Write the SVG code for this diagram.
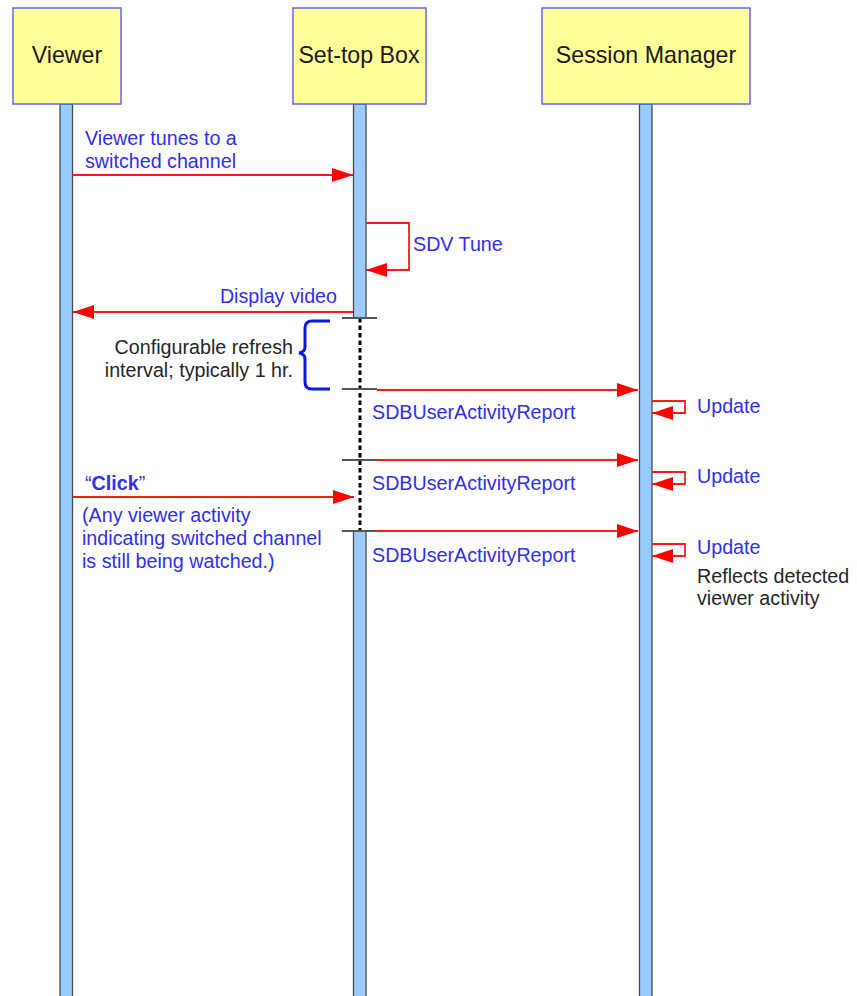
<svg xmlns="http://www.w3.org/2000/svg" width="857" height="996" viewBox="0 0 857 996">
  <defs>
    <style>
      .box { fill: #FFFF99; stroke: #6464F0; stroke-width: 1.5; }
      .bar { fill: #99CCFF; stroke: #4a4a4a; stroke-width: 1.3; }
      .title { font-family: "Liberation Sans", Arial, sans-serif; font-size: 23.2px; fill: #1a1a1a; text-anchor: middle; }
      .lbl { font-family: "Liberation Sans", Arial, sans-serif; font-size: 19.7px; fill: #3030F0; }
      .note { font-family: "Liberation Sans", Arial, sans-serif; font-size: 19.7px; fill: #262626; }
      .msg { fill: none; stroke: #FF1A1A; stroke-width: 1.8; }
      .tick { stroke: #555555; stroke-width: 2; }
    </style>
    <marker id="ah" markerWidth="21" markerHeight="14" refX="21" refY="7" orient="auto" markerUnits="userSpaceOnUse">
      <path d="M0,0 L21,7 L0,14 Z" fill="#FF0000"/>
    </marker>
  </defs>

  <rect width="857" height="996" fill="#FFFFFF"/>

  <!-- Participants with their lifelines -->
  <g id="viewer">
    <rect class="bar" x="60" y="104" width="12.5" height="900"/>
    <rect class="box" x="13" y="8" width="108" height="96"/>
    <text class="title" x="67" y="63">Viewer</text>
  </g>

  <g id="set-top-box">
    <rect class="bar" x="353.5" y="104" width="12.5" height="214"/>
    <line x1="360" y1="318" x2="360" y2="531" stroke="#000" stroke-width="3" stroke-dasharray="4.5,3"/>
    <rect class="bar" x="353.5" y="531" width="12.5" height="473"/>
    <rect class="box" x="293" y="8" width="133" height="96"/>
    <text class="title" x="359" y="63">Set-top Box</text>
  </g>

  <g id="session-manager">
    <rect class="bar" x="639.5" y="104" width="12.5" height="900"/>
    <rect class="box" x="542" y="8" width="208" height="96"/>
    <text class="title" x="646" y="63">Session Manager</text>
  </g>

  <!-- Messages -->
  <g id="connectors">
    <line class="msg" x1="73" y1="175" x2="353" y2="175" marker-end="url(#ah)"/>
    <polyline class="msg" points="366,223 409,223 409,270 366,270" marker-end="url(#ah)"/>
    <line class="msg" x1="353" y1="312" x2="73" y2="312" marker-end="url(#ah)"/>

    <line class="msg" x1="377" y1="390" x2="638" y2="390" marker-end="url(#ah)"/>
    <polyline class="msg" points="652,401 685,401 685,413 652,413" marker-end="url(#ah)"/>

    <line class="msg" x1="377" y1="460" x2="638" y2="460" marker-end="url(#ah)"/>
    <polyline class="msg" points="652,472 685,472 685,484 652,484" marker-end="url(#ah)"/>

    <line class="msg" x1="73" y1="497" x2="354" y2="497" marker-end="url(#ah)"/>

    <line class="msg" x1="377" y1="531" x2="638" y2="531" marker-end="url(#ah)"/>
    <polyline class="msg" points="652,544 685,544 685,556 652,556" marker-end="url(#ah)"/>

    <!-- interval ticks on the set-top lifeline -->
    <line class="tick" x1="342" y1="318" x2="377" y2="318"/>
    <line class="tick" x1="342" y1="389" x2="377" y2="389"/>
    <line class="tick" x1="342" y1="460" x2="377" y2="460"/>
    <line class="tick" x1="342" y1="531" x2="377" y2="531"/>

    <!-- refresh interval brace -->
    <path d="M330,321 L312,321 Q305,321 305,328 L305,347 Q305,352 299,353 Q305,354 305,359 L305,382 Q305,389 312,389 L330,389" fill="none" stroke="#0A14F0" stroke-width="3"/>
  </g>

  <!-- Labels -->
  <g id="labels">
    <text class="lbl" x="85" y="145">Viewer tunes to a</text>
    <text class="lbl" x="85" y="168">switched channel</text>
    <text class="lbl" x="413" y="251">SDV Tune</text>
    <text class="lbl" x="337" y="303" text-anchor="end">Display video</text>

    <text class="note" x="293" y="354" text-anchor="end">Configurable refresh</text>
    <text class="note" x="293" y="377" text-anchor="end">interval; typically 1 hr.</text>

    <text class="lbl" x="372" y="419">SDBUserActivityReport</text>
    <text class="lbl" x="372" y="490">SDBUserActivityReport</text>
    <text class="lbl" x="372" y="562">SDBUserActivityReport</text>

    <text class="lbl" x="697" y="413">Update</text>
    <text class="lbl" x="697" y="483">Update</text>
    <text class="lbl" x="697" y="554">Update</text>
    <text class="note" x="697" y="583">Reflects detected</text>
    <text class="note" x="697" y="605">viewer activity</text>

    <text class="lbl" x="85" y="490">“<tspan font-weight="bold">Click</tspan>”</text>
    <text class="lbl" x="82" y="522">(Any viewer activity</text>
    <text class="lbl" x="82" y="545">indicating switched channel</text>
    <text class="lbl" x="82" y="568">is still being watched.)</text>
  </g>
</svg>
